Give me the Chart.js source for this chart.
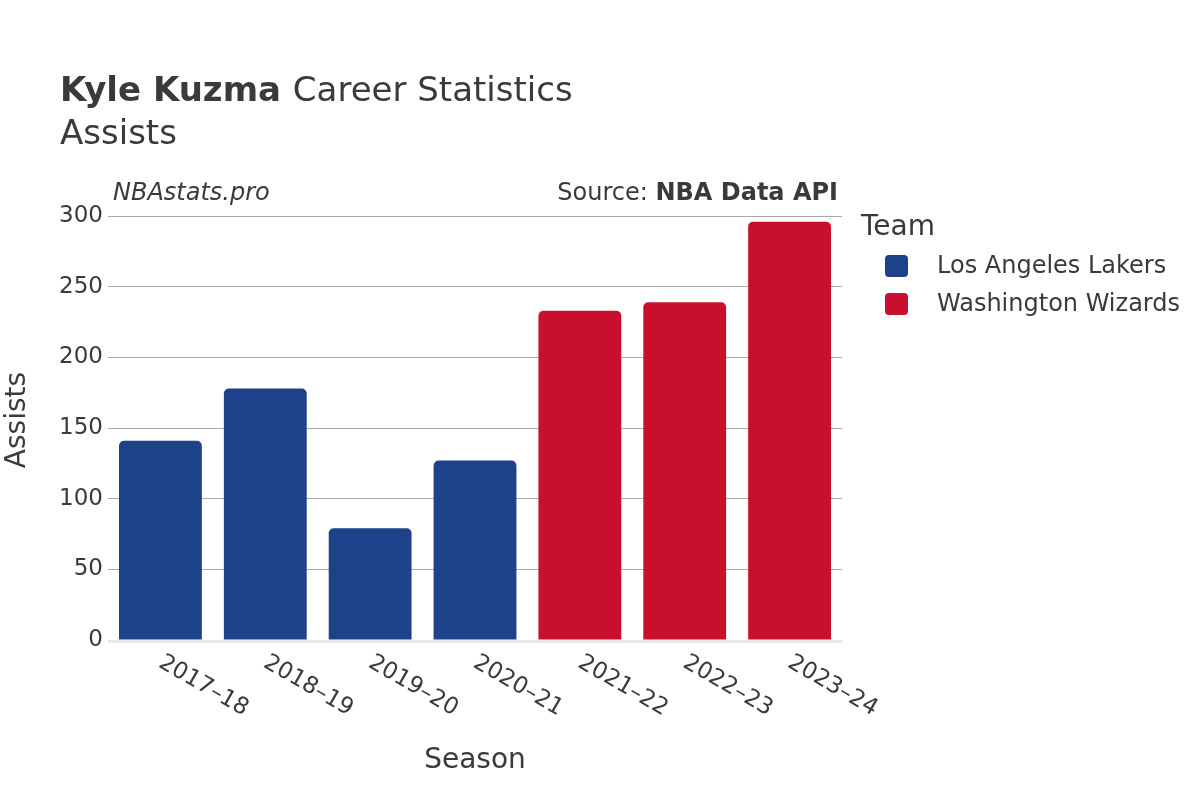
<!DOCTYPE html>
<html>
<head>
<meta charset="utf-8">
<script src="https://cdn.jsdelivr.net/npm/chart.js@4.4.1/dist/chart.umd.min.js"></script>
<style>
html,body{margin:0;padding:0;background:#fff;}
#wrap{position:relative;width:1200px;height:800px;}
</style>
</head>
<body>
<div id="wrap"><canvas id="c" width="1200" height="800"></canvas></div>
<script>
const seasons = ["2017–18","2018–19","2019–20","2020–21","2021–22","2022–23","2023–24"];
const lakersAssists = [141, 178, 79, 127, null, null, null];
const wizardsAssists = [null, null, null, null, 233, 239, 296];
const teamNames = ["Los Angeles Lakers", "Washington Wizards"];
const teamColors = ["#1d428a", "#c8102e"];
const yTicks = [0, 50, 100, 150, 200, 250, 300];

const FONT = "'DejaVu Sans', sans-serif";
const TXT = "#3a3a3a";

const textPlugin = {
  id: 'textPlugin',
  afterDraw(chart) {
    const ctx = chart.ctx;
    const xs = chart.scales.x;
    const ca = chart.chartArea;
    ctx.save();
    ctx.fillStyle = TXT;
    ctx.textBaseline = 'alphabetic';
    // Title
    ctx.textAlign = 'left';
    ctx.font = "bold 34px " + FONT;
    const bold = "Kyle Kuzma";
    ctx.fillText(bold, 60, 101);
    const bw = ctx.measureText(bold + " ").width;
    ctx.font = "34px " + FONT;
    ctx.fillText("Career Statistics", 60 + bw, 101);
    ctx.fillText("Assists", 60, 144);
    // watermark / source
    ctx.font = "italic 24px " + FONT;
    ctx.fillText("NBAstats.pro", 113, 200);
    ctx.textAlign = 'right';
    ctx.font = "bold 24px " + FONT;
    const src = "NBA Data API";
    ctx.fillText(src, 838, 200);
    const sw = ctx.measureText(src).width;
    ctx.font = "24px " + FONT;
    ctx.fillText("Source: ", 838 - sw, 200);
    // x tick labels rotated
    ctx.font = "23px " + FONT;
    ctx.textAlign = 'left';
    ctx.textBaseline = 'middle';
    seasons.forEach((s, i) => {
      const x = xs.getPixelForTick(i);
      ctx.save();
      ctx.translate(x, ca.bottom + 21);
      ctx.rotate(Math.PI / 6);
      ctx.fillText(s, 0, 0);
      ctx.restore();
    });
    // axis titles
    ctx.font = "28px " + FONT;
    ctx.textAlign = 'center';
    ctx.fillText("Season", (ca.left + ca.right) / 2, 761);
    ctx.save();
    ctx.translate(18, 420);
    ctx.rotate(-Math.PI / 2);
    ctx.fillText("Assists", 0, 0);
    ctx.restore();
    // legend
    ctx.textAlign = 'left';
    ctx.font = "28px " + FONT;
    ctx.fillText("Team", 861, 228);
    ctx.font = "24px " + FONT;
    chart.data.datasets.forEach((d, i) => {
      const cy = 266 + i * 38;
      ctx.fillStyle = d.backgroundColor;
      ctx.beginPath();
      ctx.roundRect(885, cy - 11, 23, 22, 4);
      ctx.fill();
      ctx.fillStyle = TXT;
      ctx.fillText(d.label, 937, cy + 1);
    });
    ctx.restore();
  }
};

const baselinePlugin = {
  id: 'baseline',
  afterDatasetsDraw(chart) {
    const ctx = chart.ctx;
    const y = chart.scales.y.getPixelForValue(0);
    const ca = chart.chartArea;
    ctx.save();
    ctx.strokeStyle = '#e8e8e8';
    ctx.lineWidth = 3;
    ctx.beginPath();
    ctx.moveTo(ca.left, y + 1.5);
    ctx.lineTo(ca.right, y + 1.5);
    ctx.stroke();
    ctx.restore();
  }
};

new Chart(document.getElementById('c'), {
  type: 'bar',
  data: {
    labels: seasons,
    datasets: [
      { label: teamNames[0], data: lakersAssists, backgroundColor: teamColors[0] },
      { label: teamNames[1], data: wizardsAssists, backgroundColor: teamColors[1] }
    ]
  },
  options: {
    responsive: false,
    animation: false,
    devicePixelRatio: 1,
    layout: { padding: { left: 56, right: 358, top: 216, bottom: 160 } },
    datasets: { bar: { barPercentage: 0.79, categoryPercentage: 1, borderRadius: 5, borderSkipped: 'start' } },
    plugins: { legend: { display: false }, title: { display: false }, tooltip: { enabled: false } },
    scales: {
      x: {
        stacked: true,
        ticks: { display: false },
        grid: { display: false },
        border: { display: false },
        afterFit(s) { s.height = 0; }
      },
      y: {
        stacked: true,
        min: 0, max: 300,
        afterBuildTicks(s) { s.ticks = yTicks.map(v => ({ value: v })); },
        afterFit(s) { s.width = 52; },
        ticks: { font: { family: FONT, size: 23 }, color: TXT, padding: 5 },
        grid: { color: (c) => c.tick && c.tick.value === 0 ? 'rgba(0,0,0,0)' : '#a9a9a9', lineWidth: 1, drawTicks: false },
        border: { display: false }
      }
    }
  },
  plugins: [textPlugin, baselinePlugin]
});
</script>
</body>
</html>
